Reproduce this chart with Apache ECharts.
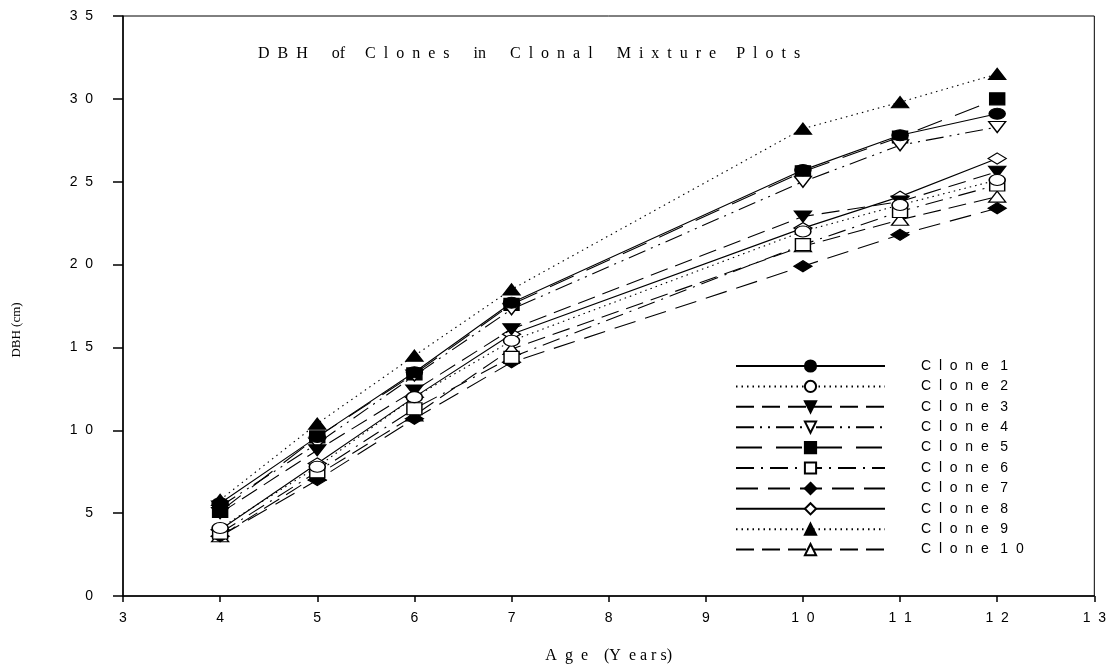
<!DOCTYPE html>
<html>
<head>
<meta charset="utf-8">
<script src="https://cdn.jsdelivr.net/npm/echarts@6/dist/echarts.min.js"></script>
<style>
  html, body { margin: 0; padding: 0; background: #fff; }
  #chart { width: 1109px; height: 669px; }
</style>
</head>
<body>
<div id="chart"></div>
<script>
// Age of measurement (years)
const ages = [4, 5, 6, 7, 10, 11, 12];

// Mean DBH (cm) per clone
const clone1  = [5.6, 9.6, 13.5, 17.7, 25.7, 27.8, 29.1];
const clone2  = [4.1, 7.8, 12.0, 15.4, 22.0, 23.6, 25.1];
const clone3  = [5.0, 8.8, 12.4, 16.1, 22.9, 23.8, 25.6];
const clone4  = [5.4, 9.2, 13.3, 17.3, 25.0, 27.2, 28.3];
const clone5  = [5.1, 9.6, 13.4, 17.6, 25.6, 27.7, 30.0];
const clone6  = [3.8, 7.5, 11.3, 14.4, 21.2, 23.2, 24.8];
const clone7  = [3.6, 7.0, 10.7, 14.1, 19.9, 21.8, 23.4];
const clone8  = [4.0, 8.0, 12.0, 15.8, 22.2, 24.1, 26.4];
const clone9  = [5.8, 10.4, 14.5, 18.5, 28.2, 29.8, 31.5];
const clone10 = [3.6, 7.3, 10.9, 14.9, 21.1, 22.7, 24.1];

const cloneNames = ['Clone 1', 'Clone 2', 'Clone 3', 'Clone 4', 'Clone 5',
                    'Clone 6', 'Clone 7', 'Clone 8', 'Clone 9', 'Clone 10'];
const cloneValues = [clone1, clone2, clone3, clone4, clone5,
                     clone6, clone7, clone8, clone9, clone10];

// Axis ticks
const xTicks = [3, 4, 5, 6, 7, 8, 9, 10, 11, 12, 13];
const yTicks = [0, 5, 10, 15, 20, 25, 30, 35];

// Line dash pattern and marker for each clone
const styles = [
  { dash: 'solid',               symbol: 'circle',   fill: '#000', rot: 0 },
  { dash: [1.5, 4],              symbol: 'circle',   fill: '#fff', rot: 0 },
  { dash: [18, 8],               symbol: 'triangle', fill: '#000', rot: 180 },
  { dash: [18, 6, 2, 6, 2, 6],   symbol: 'triangle', fill: '#fff', rot: 180 },
  { dash: [26, 14],              symbol: 'rect',     fill: '#000', rot: 0 },
  { dash: [18, 7, 2, 7],         symbol: 'rect',     fill: '#fff', rot: 0 },
  { dash: [22, 10],              symbol: 'diamond',  fill: '#000', rot: 0 },
  { dash: 'solid',               symbol: 'diamond',  fill: '#fff', rot: 0 },
  { dash: [1.5, 4],              symbol: 'triangle', fill: '#000', rot: 0 },
  { dash: [18, 8],               symbol: 'triangle', fill: '#fff', rot: 0 }
];
const symbolSizes = {
  circle: [16, 11], triangle: [17, 11], rect: [15, 12], diamond: [18, 11]
};

// Letter-spaced text helpers
const spacedDigits = v => String(v).split('').join('  ');
const spacedLegend = name => {
  const parts = name.split(' ');
  return parts[0].split('').join('  ') + '   ' + parts[1].split('').join('  ');
};

const series = cloneNames.map((name, i) => ({
  name: name,
  type: 'line',
  data: ages.map((a, j) => [a, cloneValues[i][j]]),
  symbol: styles[i].symbol,
  symbolRotate: styles[i].rot,
  symbolSize: symbolSizes[styles[i].symbol],
  showAllSymbol: true,
  lineStyle: { color: '#000', width: 1.1, type: styles[i].dash },
  itemStyle: { color: styles[i].fill, borderColor: '#000', borderWidth: 1.3 },
  emphasis: { disabled: true },
  z: 10 - i
}));

const chart = echarts.init(document.getElementById('chart'), null, { renderer: 'canvas' });
chart.setOption({
  animation: false,
  backgroundColor: '#fff',
  title: {
    text: 'D  B  H      of     C  l  o  n  e  s      in      C  l  o  n  a  l      M  i  x  t  u  r  e     P  l  o  t  s',
    left: 258,
    top: 46,
    padding: 0,
    textStyle: {
      fontFamily: 'Liberation Serif', fontSize: 16, fontWeight: 'normal', color: '#000'
    }
  },
  graphic: [{
    type: 'text',
    x: 17,
    y: 330,
    rotation: Math.PI / 2,
    style: {
      text: 'DBH (cm)',
      font: '13px "Liberation Serif"',
      fill: '#000',
      textAlign: 'center',
      textVerticalAlign: 'middle'
    }
  }],
  grid: {
    left: 123, right: 13, top: 16, bottom: 73,
    show: true, borderColor: '#000', borderWidth: 1
  },
  legend: {
    orient: 'vertical',
    left: 730,
    top: 354,
    itemWidth: 149,
    itemHeight: 14,
    itemGap: 6.4,
    selectedMode: false,
    data: cloneNames,
    formatter: name => spacedLegend(name),
    textStyle: {
      fontFamily: 'Liberation Sans', fontSize: 14, color: '#000',
      padding: [0, 0, 0, 31]
    }
  },
  xAxis: {
    type: 'value',
    min: 3, max: 13, interval: 1,
    name: 'A  g  e    (Y  e a r s)',
    nameLocation: 'middle',
    nameGap: 52,
    nameTextStyle: { fontFamily: 'Liberation Serif', fontSize: 16, color: '#000' },
    axisLine: { lineStyle: { color: '#000', width: 1.5 } },
    axisTick: { show: true, length: 6, inside: false, lineStyle: { color: '#000', width: 1.5 } },
    axisLabel: {
      margin: 15,
      fontFamily: 'Liberation Sans', fontSize: 14, color: '#000',
      formatter: v => xTicks.includes(v) ? spacedDigits(v) : ''
    },
    splitLine: { show: false }
  },
  yAxis: {
    type: 'value',
    min: 0, max: 35, interval: 5,
    axisLine: { lineStyle: { color: '#000', width: 1.5 } },
    axisTick: { show: true, length: 10, inside: false, lineStyle: { color: '#000', width: 1.5 } },
    axisLabel: {
      margin: 30,
      fontFamily: 'Liberation Sans', fontSize: 14, color: '#000',
      formatter: v => yTicks.includes(v) ? spacedDigits(v) : ''
    },
    splitLine: { show: false }
  },
  series: series
});
</script>
</body>
</html>
